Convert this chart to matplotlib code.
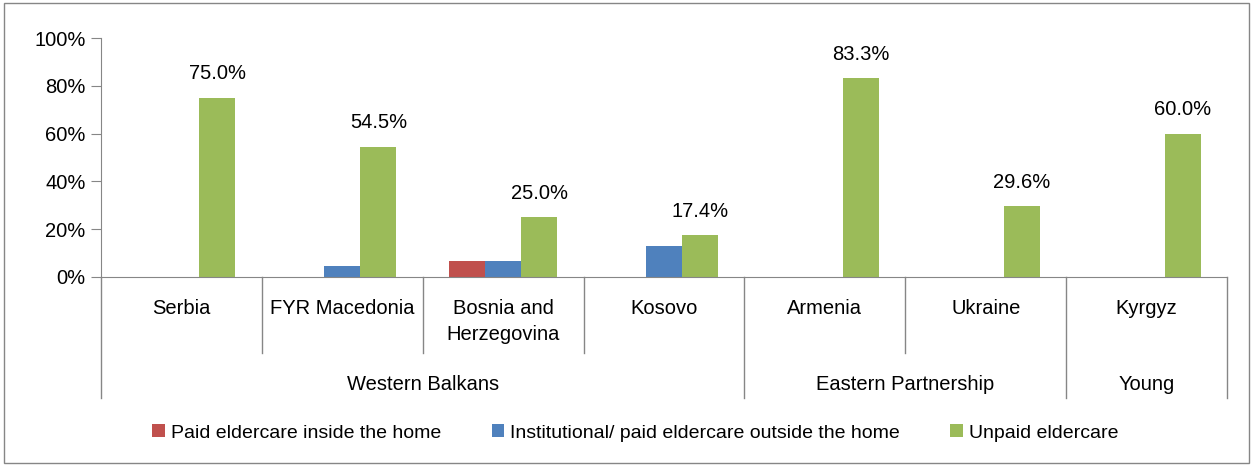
import numpy as np
import matplotlib
matplotlib.use("Agg")
import matplotlib.pyplot as plt
import matplotlib.transforms as mtransforms

# data
countries = ["Serbia", "FYR Macedonia", "Bosnia and\nHerzegovina", "Kosovo",
             "Armenia", "Ukraine", "Kyrgyz"]
groups = ["Western Balkans", "Eastern Partnership", "Young"]
group_sizes = [4, 2, 1]
series_names = ["Paid eldercare inside the home",
                "Institutional/ paid eldercare outside the home",
                "Unpaid eldercare"]
paid_inside = [0, 0, 6.7, 0, 0, 0, 0]
institutional = [0, 4.5, 6.7, 13.0, 0, 0, 0]
unpaid = [75.0, 54.5, 25.0, 17.4, 83.3, 29.6, 60.0]

colors = ["#C0504D", "#4F81BD", "#9BBB59"]
grid_col = "#868686"
fs = 14.5

plt.rcParams["font.family"] = ["Liberation Sans", "DejaVu Sans"]

fig = plt.figure(figsize=(12.53, 4.66), dpi=100)
ax = fig.add_axes([101 / 1253, 1 - 277 / 466, 1126 / 1253, 239 / 466])

x = np.arange(len(countries))
w = 0.224
for i, (vals, col, name) in enumerate(zip([paid_inside, institutional, unpaid], colors, series_names)):
    ax.bar(x + (i - 1) * w, vals, width=w, color=col, label=name, zorder=2)

for xi, v in zip(x, unpaid):
    ax.text(xi + w, v + 6, f"{v:.1f}%", ha="center", va="bottom", fontsize=fs)

ax.set_xlim(-0.5, len(countries) - 0.5)
ax.set_ylim(0, 100)
ax.set_yticks(range(0, 101, 20))
ax.set_yticklabels([f"{t}%" for t in range(0, 101, 20)], fontsize=fs)
ax.set_xticks([])
for s in ["top", "right"]:
    ax.spines[s].set_visible(False)
for s in ["left", "bottom"]:
    ax.spines[s].set_color(grid_col)
ax.tick_params(axis="y", color=grid_col, length=7, pad=4)

# multi-level category axis
trans = mtransforms.blended_transform_factory(ax.transData, ax.transAxes)
inner_bottom = -76 / 239
outer_bottom = -121 / 239
boundaries = np.cumsum([0] + group_sizes) - 0.5
for k in range(len(countries) + 1):
    xb = k - 0.5
    bottom = outer_bottom if xb in boundaries else inner_bottom
    ax.plot([xb, xb], [0, bottom], color=grid_col, lw=1, transform=trans, clip_on=False)

for xi, name in zip(x, countries):
    ax.text(xi, -22 / 239, name, ha="center", va="top", fontsize=fs,
            linespacing=1.45, transform=trans)

for g, (a, b) in zip(groups, zip(boundaries[:-1], boundaries[1:])):
    ax.text((a + b) / 2, -108 / 239, g, ha="center", va="center", fontsize=fs, transform=trans)

fig.legend(loc="center", bbox_to_anchor=(0.507, 1 - 433 / 466), ncol=3, frameon=False,
           fontsize=14, handlelength=0.65, handleheight=0.65, handletextpad=0.3,
           columnspacing=2.6)

# outer chart border
fig.patches.append(plt.Rectangle((4 / 1253, 3 / 466), 1245 / 1253, 460 / 466,
                                 transform=fig.transFigure, fill=False,
                                 edgecolor=grid_col, lw=1))

fig.savefig("out.png", dpi=100)
